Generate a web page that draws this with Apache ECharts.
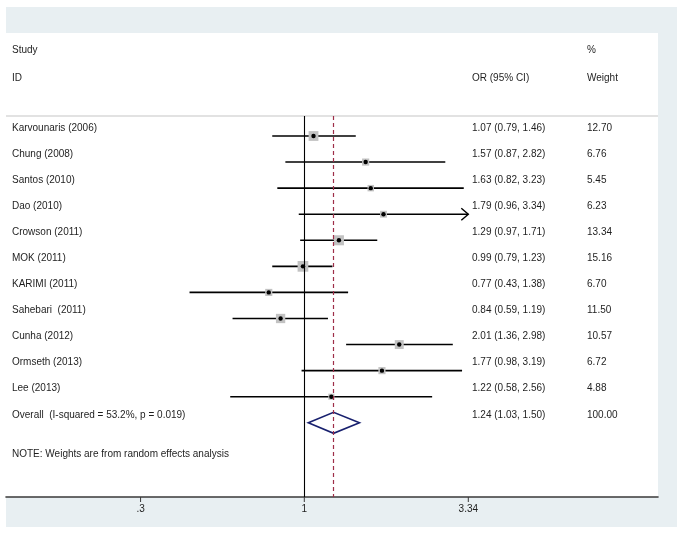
<!DOCTYPE html>
<html><head><meta charset="utf-8">
<script src="https://cdn.jsdelivr.net/npm/echarts@6/dist/echarts.min.js"></script>
<style>html,body{margin:0;padding:0;background:#fff}#c{width:683px;height:533px}</style>
</head><body><div id="c"></div>
<script>
// ---- data ----
const studies = ['Karvounaris (2006)', 'Chung (2008)', 'Santos (2010)', 'Dao (2010)', 'Crowson (2011)', 'MOK (2011)', 'KARIMI (2011)', 'Sahebari  (2011)', 'Cunha (2012)', 'Ormseth (2013)', 'Lee (2013)'];
const orValues = [1.07, 1.57, 1.63, 1.79, 1.29, 0.99, 0.77, 0.84, 2.01, 1.77, 1.22];
const ciLow   = [0.79, 0.87, 0.82, 0.96, 0.97, 0.79, 0.43, 0.59, 1.36, 0.98, 0.58];
const ciHigh  = [1.46, 2.82, 3.23, 3.34, 1.71, 1.23, 1.38, 1.19, 2.98, 3.19, 2.56];
const weights = [12.70, 6.76, 5.45, 6.23, 13.34, 15.16, 6.70, 11.50, 10.57, 6.72, 4.88];
const overallLabel = 'Overall  (I-squared = 53.2%, p = 0.019)';
const overallOR = [1.24];
const overallLow = [1.03];
const overallHigh = [1.50];
const overallWeight = [100.00];
const tickValues = [0.3, 1, 3.34];
const tickLabels = ['.3', '1', '3.34'];
const headerStudy = ['Study', 'ID'];
const headerOR = 'OR (95% CI)';
const headerWeight = ['%', 'Weight'];
const noteText = 'NOTE: Weights are from random effects analysis';

// ---- style / layout ----
const FONT = '10px "Liberation Sans", Arial, sans-serif';
const TXT = '#1e1e1e';
const COL_LABEL = 12, COL_OR = 472, COL_W = 587;
const XMAX = tickValues[tickValues.length - 1];

const fmt = v => v.toFixed(2);

function textEl(x, y, t) {
  return { type: 'text', x: x, y: y, style: { text: t, fill: TXT, font: FONT, align: 'left', verticalAlign: 'middle' } };
}

const studyData = studies.map((s, i) => [orValues[i], i, ciLow[i], ciHigh[i], weights[i]]);

const chart = echarts.init(document.getElementById('c'), null, { renderer: 'canvas' });
chart.setOption({
  animation: false,
  backgroundColor: '#ffffff',
  grid: { left: 6, right: 25, top: 116, bottom: 36, containLabel: false },
  xAxis: {
    type: 'log', logBase: Math.E, min: 0.11152, max: 13.475,
    axisLine: { show: true, onZero: false, lineStyle: { color: '#3a3a3a', width: 1.6 } },
    axisTick: { show: false }, axisLabel: { show: false }, splitLine: { show: false }
  },
  yAxis: {
    type: 'value', inverse: true, min: -0.7672, max: 13.847, show: false, splitLine: { show: false }
  },
  graphic: [
    { type: 'rect', z: -10, shape: { x: 6, y: 7, width: 671, height: 520 }, style: { fill: '#e8eff2' } },
    { type: 'rect', z: -9, shape: { x: 6, y: 33, width: 652, height: 464 }, style: { fill: '#ffffff' } },
    { type: 'line', z: -8, shape: { x1: 6, y1: 116, x2: 658, y2: 116 }, style: { stroke: '#d8d8d8', lineWidth: 1.5 } },
    Object.assign(textEl(COL_LABEL, 50, headerStudy[0]), { z: 1 }),
    Object.assign(textEl(COL_LABEL, 78, headerStudy[1]), { z: 1 }),
    Object.assign(textEl(COL_OR, 78, headerOR), { z: 1 }),
    Object.assign(textEl(COL_W, 50, headerWeight[0]), { z: 1 }),
    Object.assign(textEl(COL_W, 78, headerWeight[1]), { z: 1 }),
    Object.assign(textEl(COL_LABEL, 454, noteText), { z: 1 })
  ],
  series: [
    {
      type: 'line', data: [], silent: true,
      markLine: {
        silent: true, symbol: 'none', label: { show: false },
        data: [
          { xAxis: 1, lineStyle: { color: '#000', width: 1.1, type: 'solid' } },
          { xAxis: overallOR[0], lineStyle: { color: '#9e2e48', width: 1.2, type: [4, 3] } }
        ]
      }
    },
    {
      type: 'custom', silent: true,
      encode: { x: [0, 2, 3], y: 1 },
      data: studyData,
      renderItem: function (params, api) {
        const i = params.dataIndex;
        const row = api.value(1);
        const pE = api.coord([api.value(0), row]);
        const pL = api.coord([api.value(2), row]);
        const pH = api.coord([api.value(3), row]);
        const w = api.value(4);
        const side = 2.75 * Math.sqrt(w);
        const y = pE[1];
        const ch = [
          { type: 'line', shape: { x1: pL[0], y1: y, x2: pH[0], y2: y }, style: { stroke: '#000', lineWidth: 1.6 } }
        ];
        if (api.value(3) >= XMAX) {
          ch.push({ type: 'polyline', shape: { points: [[pH[0] - 7, y - 6], [pH[0], y], [pH[0] - 7, y + 6]] }, style: { stroke: '#000', lineWidth: 1.4, fill: null } });
        }
        ch.push({ type: 'rect', shape: { x: pE[0] - side / 2, y: y - side / 2, width: side, height: side }, style: { fill: '#c2c2c2' } });
        ch.push({ type: 'circle', shape: { cx: pE[0], cy: y, r: 2.2 }, style: { fill: '#000' } });
        ch.push(textEl(COL_LABEL, y - 8, studies[i]));
        ch.push(textEl(COL_OR, y - 8, fmt(orValues[i]) + ' (' + fmt(ciLow[i]) + ', ' + fmt(ciHigh[i]) + ')'));
        ch.push(textEl(COL_W, y - 8, fmt(weights[i])));
        return { type: 'group', children: ch };
      }
    },
    {
      type: 'custom', silent: true,
      encode: { x: [0, 2, 3], y: 1 },
      data: overallOR.map((v, i) => [v, studies.length, overallLow[i], overallHigh[i], overallWeight[i]]),
      renderItem: function (params, api) {
        const i = params.dataIndex;
        const row = api.value(1);
        const pE = api.coord([api.value(0), row]);
        const pL = api.coord([api.value(2), row]);
        const pH = api.coord([api.value(3), row]);
        const y = pE[1], h = 10.5;
        return {
          type: 'group', children: [
            { type: 'polygon', shape: { points: [[pL[0], y], [pE[0], y - h], [pH[0], y], [pE[0], y + h]] }, style: { stroke: '#18206e', lineWidth: 1.6, fill: null } },
            textEl(COL_LABEL, y - 8, overallLabel),
            textEl(COL_OR, y - 8, fmt(overallOR[i]) + ' (' + fmt(overallLow[i]) + ', ' + fmt(overallHigh[i]) + ')'),
            textEl(COL_W, y - 8, fmt(overallWeight[i]))
          ]
        };
      }
    },
    {
      type: 'custom', silent: true,
      encode: { x: 0, y: 1 },
      data: tickValues.map(v => [v, 0]),
      renderItem: function (params, api) {
        const i = params.dataIndex;
        const x = api.coord([api.value(0), 0])[0];
        const yb = params.coordSys.y + params.coordSys.height;
        return {
          type: 'group', children: [
            { type: 'line', shape: { x1: x, y1: yb, x2: x, y2: yb + 5 }, style: { stroke: '#3a3a3a', lineWidth: 1 } },
            { type: 'text', x: x, y: yb + 12, style: { text: tickLabels[i], fill: TXT, font: FONT, align: 'center', verticalAlign: 'middle' } }
          ]
        };
      }
    }
  ]
});
</script></body></html>
